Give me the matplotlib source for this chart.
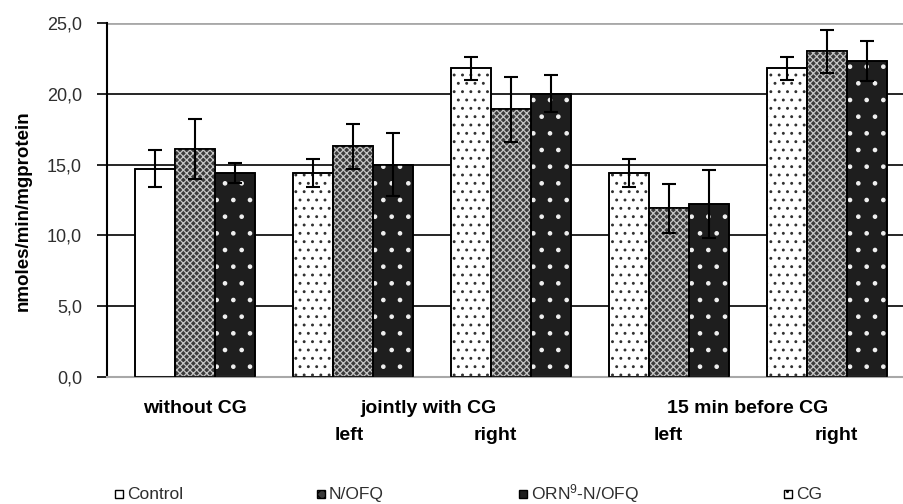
import numpy as np
import matplotlib
matplotlib.use("Agg")
import matplotlib.pyplot as plt
from matplotlib.patches import Rectangle

plt.rcParams['font.family'] = ['Liberation Sans', 'DejaVu Sans']
plt.rcParams['mathtext.default'] = 'regular'
plt.rcParams['hatch.linewidth'] = 0.9

# --- data ---
groups = ['without CG', 'jointly with CG\nleft', 'jointly with CG\nright',
          '15 min before CG\nleft', '15 min before CG\nright']
series = ['Control / CG', 'N/OFQ', 'ORN$^9$-N/OFQ']
first_vals = [14.7, 14.4, 21.8, 14.4, 21.8]     # Control in group 1, CG elsewhere
first_err = [1.3, 1.0, 0.8, 1.0, 0.8]
nofq_vals = [16.1, 16.3, 18.9, 11.9, 23.0]
nofq_err = [2.1, 1.6, 2.3, 1.7, 1.5]
orn_vals = [14.4, 15.0, 20.0, 12.2, 22.3]
orn_err = [0.7, 2.2, 1.3, 2.4, 1.4]
yticks = [0, 5, 10, 15, 20, 25]
ytick_labels = ['0,0', '5,0', '10,0', '15,0', '20,0', '25,0']
legend_labels = ['Control', 'N/OFQ', 'ORN$^9$-N/OFQ', 'CG']

fig = plt.figure(figsize=(9.04, 5.04), dpi=100)
ax = fig.add_axes([107 / 904, 1 - 377 / 504, 1 - 107 / 904, 354 / 504])

x = np.arange(len(groups))
w = 0.253


def hatched_bars(xpos, vals, face, hatch, hatch_col):
    ax.bar(xpos, vals, w, color=face, edgecolor='black', linewidth=1.2, zorder=2)
    for xi, v, h in zip(xpos, vals, hatch):
        if h:
            ax.bar(xi, v, w, fill=False, edgecolor=hatch_col, linewidth=0,
                   hatch=h, zorder=2.5)
    ax.bar(xpos, vals, w, fill=False, edgecolor='black', linewidth=1.2, zorder=2.6)


hatched_bars(x - w, first_vals, 'white', [None, '..', '..', '..', '..'], '#303030')
hatched_bars(x, nofq_vals, '#3a3a3a', ['xxxxx'] * 5, '#c4c4c4')
hatched_bars(x + w, orn_vals, '#1e1e1e', ['.'] * 5, '#f0f0f0')

for off, vals, err in [(-w, first_vals, first_err), (0, nofq_vals, nofq_err),
                       (w, orn_vals, orn_err)]:
    ax.errorbar(x + off, vals, yerr=err, fmt='none', ecolor='black',
                elinewidth=1.5, capsize=5, capthick=1.5, zorder=4)

# gridlines
for t in yticks[1:-1]:
    ax.axhline(t, color='black', linewidth=1.2, zorder=0.5)
ax.axhline(25, color='#a8a8a8', linewidth=2, zorder=0.5)

ax.set_xlim(-0.557, 4.49)
ax.set_ylim(0, 25)
ax.set_yticks(yticks)
ax.set_yticklabels(ytick_labels, fontsize=13, color='#2e2e2e')
ax.tick_params(axis='y', direction='out', length=7, width=1.2, pad=11)
ax.set_xticks([])
for s in ['top', 'right']:
    ax.spines[s].set_visible(False)
ax.spines['left'].set_linewidth(1.5)
ax.spines['bottom'].set_color('#a8a8a8')
ax.spines['bottom'].set_linewidth(1.5)
ax.set_ylabel('nmoles/min/mgprotein', fontsize=13.5, fontweight='bold')
ax.yaxis.set_label_coords(-0.095, 0.47)

# group labels
tr = ax.get_xaxis_transform()
ax.text(0, -0.088, 'without CG', transform=tr, ha='center', va='center',
        fontsize=14, fontweight='bold')
ax.text(1.48, -0.088, 'jointly with CG', transform=tr, ha='center', va='center',
        fontsize=14, fontweight='bold')
ax.text(3.5, -0.088, '15 min before CG', transform=tr, ha='center', va='center',
        fontsize=14, fontweight='bold')
for xp, lab in [(0.98, 'left'), (1.9, 'right'), (3.0, 'left'), (4.06, 'right')]:
    ax.text(xp, -0.165, lab, transform=tr, ha='center', va='center',
            fontsize=14, fontweight='bold')

# legend (drawn by hand so all entries share one baseline)
leg_style = [dict(facecolor='white'),
             dict(facecolor='#3a3a3a', hatch='xxx'),
             dict(facecolor='#1e1e1e'),
             dict(facecolor='white', hatch='..')]
leg_x = [115, 317, 519, 784]
box = 8
for st, lab, lx in zip(leg_style, legend_labels, leg_x):
    fig.add_artist(Rectangle((lx / 904, 1 - 498 / 504), box / 904, box / 504,
                             transform=fig.transFigure, edgecolor='black',
                             linewidth=1, **st))
    fig.text((lx + box + 4) / 904, 1 - 499 / 504, lab, fontsize=12.5,
             color='#2e2e2e', ha='left', va='baseline')

fig.savefig('out.png', dpi=100)
